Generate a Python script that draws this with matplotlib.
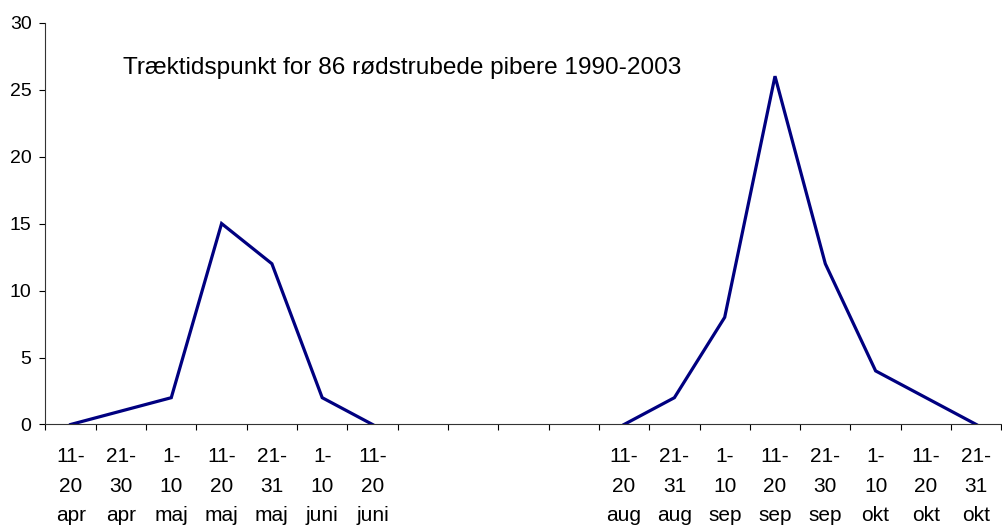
import numpy as np
import matplotlib
matplotlib.use("Agg")
import matplotlib.pyplot as plt

plt.rcParams['font.family'] = ['Liberation Sans', 'DejaVu Sans']

# 19 ten-day periods, blanks for the summer gap
periods = ["11-\n20\napr", "21-\n30\napr", "1-\n10\nmaj", "11-\n20\nmaj", "21-\n31\nmaj",
           "1-\n10\njuni", "11-\n20\njuni", "", "", "", "",
           "11-\n20\naug", "21-\n31\naug", "1-\n10\nsep", "11-\n20\nsep", "21-\n30\nsep",
           "1-\n10\nokt", "11-\n20\nokt", "21-\n31\nokt"]
counts = [0, 1, 2, 15, 12, 2, 0, np.nan, np.nan, np.nan, np.nan,
          0, 2, 8, 26, 12, 4, 2, 0]
title = "Træktidspunkt for 86 rødstrubede pibere 1990-2003"

fig = plt.figure(figsize=(10.02, 5.26), dpi=100)
ax = fig.add_axes([0.0454, 0.193, 0.954, 0.764])

x = np.arange(len(periods))
ax.plot(x, counts, color="#000080", lw=2.3, solid_joinstyle="miter")

ax.set_xlim(-0.5, len(periods) - 0.5)
ax.set_ylim(0, 30)
ax.set_yticks(range(0, 31, 5))
ax.set_xticks(x)
ax.set_xticklabels(periods, fontsize=15, linespacing=1.72)
ax.set_xticks(np.arange(-0.5, len(periods)), minor=True)
ax.tick_params(axis="x", which="major", length=0, pad=16)
ax.tick_params(axis="x", which="minor", length=4.5, width=0.8)
ax.tick_params(axis="y", length=4, width=0.8, labelsize=14, pad=6)

ax.spines["top"].set_visible(False)
ax.spines["right"].set_visible(False)
for s in ("left", "bottom"):
    ax.spines[s].set_linewidth(0.8)
    ax.spines[s].set_color("#333333")

ax.text(0.081, 0.872, title, transform=ax.transAxes, fontsize=17.6, va="baseline")

fig.savefig("out.png", dpi=100)
